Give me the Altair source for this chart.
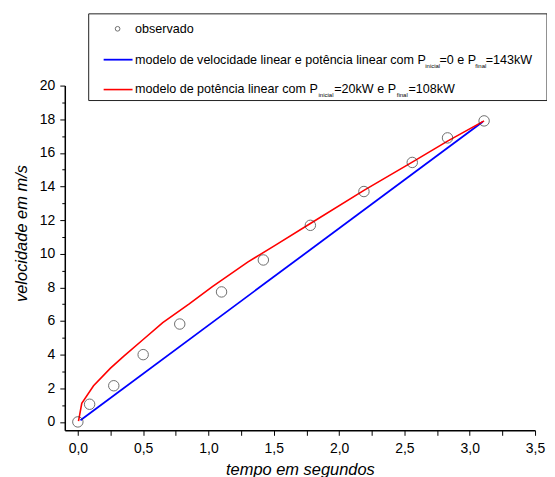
import altair as alt
import pandas as pd

# observed points
t_obs = [0.0, 0.09, 0.275, 0.50, 0.78, 1.10, 1.42, 1.78, 2.19, 2.56, 2.83, 3.11]
v_obs = [0.0, 1.05, 2.15, 4.0, 5.82, 7.73, 9.63, 11.69, 13.7, 15.43, 16.89, 17.9]

# blue model: linear velocity
blue_t = [0.02, 3.10]
blue_v = [0.10, 17.85]

# red model: linear power 20kW -> 108kW
red_t = [0.005, 0.03, 0.12, 0.25, 0.35, 0.5, 0.65, 0.85, 1.03, 1.3, 1.51, 1.78, 2.19, 2.56, 2.83, 3.11]
red_v = [0.05, 1.1, 2.15, 3.2, 3.9, 4.9, 5.9, 7.0, 8.05, 9.5, 10.5, 11.8, 13.77, 15.45, 16.7, 17.9]

x_ticks = [i * 0.25 for i in range(15)]
y_ticks = list(range(0, 21))

legend_obs = "observado"
legend_line1 = [("modelo de velocidade linear e potência linear com P", "n"), ("inicial", "s"),
                ("=0 e P", "n"), ("final", "s"), ("=143kW", "n")]
legend_line2 = [("modelo de potência linear com P", "n"), ("inicial", "s"),
                ("=20kW e P", "n"), ("final", "s"), ("=108kW", "n")]

FONT = "Liberation Sans"
F_MAIN = 12.6
F_SUB = 6

# Arial / Liberation Sans advance widths (per 1000 em) for text layout
W = {"a": 556, "b": 556, "c": 500, "d": 556, "e": 556, "ê": 556, "f": 278, "i": 222, "k": 500,
     "l": 222, "m": 833, "n": 556, "o": 556, "p": 556, "r": 333, "s": 500, "t": 278, "v": 500,
     "P": 667, "W": 944, "=": 584, " ": 278}


def twidth(s, size):
    return sum(W.get(ch, 556) for ch in s) / 1000.0 * size


obs = pd.DataFrame({"t": t_obs, "v": v_obs})
blue = pd.DataFrame({"t": blue_t, "v": blue_v})
red = pd.DataFrame({"t": red_t, "v": red_v})
one = pd.DataFrame({"a": [0]})

xscale = alt.Scale(domain=[-0.1, 3.5], nice=False, zero=False)
yscale = alt.Scale(domain=[-0.5, 20], nice=False, zero=False)

xaxis = alt.Axis(
    values=x_ticks,
    labelExpr="abs(datum.value*2 - round(datum.value*2)) < 0.001 ? replace(format(datum.value, '.1f'), '.', ',') : ''",
    title="tempo em segundos", titleFontStyle="italic", titleFontWeight="normal",
    titleFontSize=16.5, titleFont=FONT, titleY=44, titleBaseline="alphabetic",
    labelFont=FONT, labelFontSize=14, labelColor="black", labelPadding=6,
    labelFlush=False, labelOverlap=False,
    tickSize=5, tickColor="black", tickWidth=1,
    domainColor="black", domainWidth=1.5, grid=False,
)
yaxis = alt.Axis(
    values=y_ticks,
    labelExpr="datum.value % 2 === 0 ? datum.label : ''",
    title="velocidade em m/s", titleFontStyle="italic", titleFontWeight="normal",
    titleFontSize=16.5, titleFont=FONT, titleX=-43, titleY=148, titleAngle=270,
    titleAlign="center", titleBaseline="middle",
    labelFont=FONT, labelFontSize=14, labelColor="black", labelPadding=5,
    labelFlush=False, labelOverlap=False,
    tickSize={"condition": {"test": "datum.value % 2 === 0", "value": 5}, "value": 3},
    tickColor="black", tickWidth=1,
    domainColor="black", domainWidth=1.5, grid=False,
)

X = alt.X("t:Q", scale=xscale, axis=xaxis)
Y = alt.Y("v:Q", scale=yscale, axis=yaxis)

blue_line = alt.Chart(blue).mark_line(color="#0000ff", strokeWidth=1.8).encode(x=X, y=Y)
red_line = alt.Chart(red).mark_line(color="#ff0000", strokeWidth=1.6).encode(x=X, y=Y)
points = alt.Chart(obs).mark_point(shape="circle", filled=False, size=110,
                                   color="#333333", strokeWidth=1).encode(x=X, y=Y)

# legend box (positions relative to plot origin)
box = alt.Chart(one).mark_rect(fill="white", stroke="#222222", strokeWidth=1).encode(
    x=alt.value(24), x2=alt.value(484), y=alt.value(-72), y2=alt.value(15)
)
leg_pt = alt.Chart(one).mark_point(shape="circle", filled=False, size=22,
                                   color="#333333", strokeWidth=1).encode(
    x=alt.value(53), y=alt.value(-57)
)
leg_blue = alt.Chart(one).mark_rule(color="#0000ff", strokeWidth=1.8).encode(
    x=alt.value(39), x2=alt.value(68), y=alt.value(-26)
)
leg_red = alt.Chart(one).mark_rule(color="#ff0000", strokeWidth=1.6).encode(
    x=alt.value(39), x2=alt.value(68), y=alt.value(4)
)


def txt(s, x, y, size):
    return alt.Chart(one).mark_text(align="left", baseline="middle", font=FONT,
                                    fontSize=size, color="black").encode(
        x=alt.value(x), y=alt.value(y), text=alt.value(s))


def legend_line(pieces, x0, y, x_end):
    sizes = [F_MAIN if kind == "n" else F_SUB for _, kind in pieces]
    natural = sum(twidth(s, sz) for (s, _), sz in zip(pieces, sizes))
    gap = (x_end - x0 - natural) / (len(pieces) - 1)
    out = []
    x = x0
    for (s, kind), sz in zip(pieces, sizes):
        out.append(txt(s, round(x, 1), y if kind == "n" else y + 6, sz))
        x += twidth(s, sz) + gap
    return out


texts = [txt(legend_obs, 70.5, -57, F_MAIN)]
texts += legend_line(legend_line1, 70.5, -26, 469)
texts += legend_line(legend_line2, 70.5, 3.5, 391.5)

chart = alt.layer(blue_line, red_line, points, box, leg_pt, leg_blue, leg_red, *texts).properties(
    width=472, height=346,
    padding={"left": 57, "top": 77, "right": 12, "bottom": 50},
    autosize="none",
).configure_view(stroke=None)

chart.save("out.html", embed_options={"renderer": "svg", "actions": False})
